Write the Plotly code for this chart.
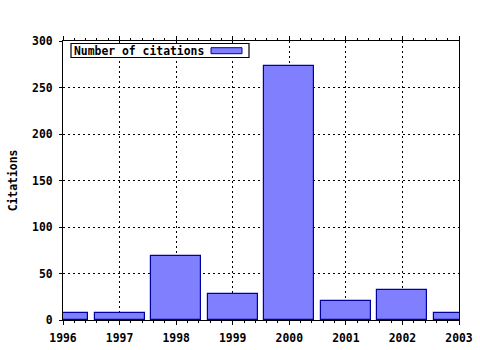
import plotly.graph_objects as go

years = [1996, 1997, 1998, 1999, 2000, 2001, 2002, 2003]
citations = [8, 7, 69, 28, 273, 20, 32, 7]
series_name = "Number of citations"
y_title = "Citations"

FONT = dict(family="DejaVu Sans Mono", size=11.4, color="black", weight="bold")

fig = go.Figure()
fig.add_trace(go.Bar(
    x=years, y=citations, width=0.885, name=series_name,
    marker=dict(color="#8080FF", line=dict(color="#0000A0", width=1.2)),
    showlegend=False,
))

fig.update_layout(
    width=480, height=350,
    margin=dict(l=63, r=21, t=41, b=30, autoexpand=False),
    paper_bgcolor="white", plot_bgcolor="white",
    font=FONT,
    bargap=0,
)
fig.update_xaxes(
    range=[1996, 2003], tickmode="linear", tick0=1996, dtick=1,
    automargin=False,
    showline=True, linecolor="black", linewidth=1.2, mirror="ticks",
    ticks="outside", ticklen=4, tickcolor="black", tickwidth=1,
    ticklabelstandoff=3,
    showgrid=True, gridcolor="black", gridwidth=1, griddash="2px,3px",
    minor=dict(dtick=0.2, ticks="outside", ticklen=2, tickcolor="black", showgrid=False),
    zeroline=False, tickfont=FONT,
)
fig.update_yaxes(
    range=[0, 300], tickmode="linear", tick0=0, dtick=50,
    automargin=False,
    showline=True, linecolor="black", linewidth=1.2, mirror=True,
    ticks="outside", ticklen=3, tickcolor="black", tickwidth=1,
    ticklabelstandoff=4,
    showgrid=True, gridcolor="black", gridwidth=1, griddash="2px,3px",
    zeroline=False, tickfont=FONT,
    title=dict(text=y_title, font=FONT, standoff=12),
)

# legend box (text with swatch on the right)
fig.add_shape(type="rect", xref="paper", yref="paper",
              x0=(71 - 63) / 396, x1=(249 - 63) / 396,
              y0=(320 - 57.5) / 279, y1=(320 - 43.5) / 279,
              line=dict(color="black", width=1.2), fillcolor="white", layer="above")
fig.add_shape(type="rect", xref="paper", yref="paper",
              x0=(211 - 63) / 396, x1=(242 - 63) / 396,
              y0=(320 - 53.7) / 279, y1=(320 - 47.7) / 279,
              line=dict(color="#0000A0", width=1), fillcolor="#8080FF", layer="above")
fig.add_annotation(xref="paper", yref="paper", x=(72 - 63) / 396, y=(320 - 50.5) / 279,
                   xanchor="left", yanchor="middle", text=series_name,
                   showarrow=False, font=FONT)

fig.write_html("out.html")
